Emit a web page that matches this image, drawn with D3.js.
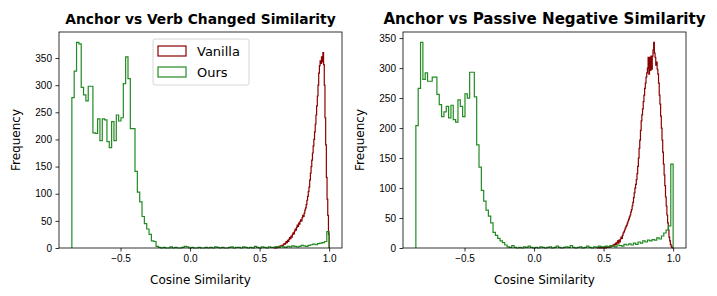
<!DOCTYPE html>
<meta charset="utf-8">
<style>
body { margin: 0; background: #fff; }
svg { font-family: "DejaVu Sans", sans-serif; }
.title { font-weight: bold; text-anchor: middle; }
.tick text { font-size: 10px; fill: #000; }
.tick line { stroke: #000; stroke-width: 0.8; }
.domain { display: none; }
</style>
<body>
<script src="https://cdnjs.cloudflare.com/ajax/libs/d3/7.8.5/d3.min.js"></script>
<script>

// histogram bin layout (start, width) and counts
var greenStart = -0.85, greenWidth = 1.85 / 110;

var verbOurs = [
  277, 326, 379, 376, 296, 282, 271, 298, 298, 212, 211, 238, 198, 238, 236, 196, 185, 233, 198, 245,
  234, 240, 303, 352, 312, 220, 220, 141, 103, 85, 58, 45, 35, 25, 13, 12, 3,
  1, 0, 1, 0, 0, 2, 0, 1, 0, 0, 1, 3, 2, 0, 1, 0, 0, 1, 0, 0, 1, 0, 1, 0, 2, 1, 0, 1, 0,
  0, 1, 2, 0, 1, 1, 0, 2, 1, 0, 1, 0, 3, 1, 0, 2, 1, 0, 2, 1,
  1, 2, 1, 3, 2, 1, 3, 2, 4, 3, 2, 3, 5, 4, 3, 5, 6, 7, 6, 8, 9, 10, 12, 30
];

var verbVanillaStart = 0.6, vanillaWidth = 0.005;
var verbVanilla = [
  0, 1, 0, 1, 0, 2, 1, 2, 3, 2, 4, 3, 5, 4, 6, 8, 7, 9, 12, 10,
  14, 12, 16, 19, 17, 22, 20, 25, 28, 26, 31, 35, 33, 38, 42, 40, 46, 44, 49, 52,
  50, 56, 60, 58, 64, 70, 74, 80, 88, 95, 104, 112, 125, 138, 150, 162, 175, 188, 200, 214,
  228, 245, 262, 280, 300, 322, 336, 345, 340, 352, 343, 360, 338, 300, 240, 190, 130, 90, 60, 25
];

var passiveOurs = [
  204, 266, 343, 281, 292, 278, 278, 285, 285, 256, 239, 219, 227, 236, 217, 238, 214, 210, 247, 236,
  219, 257, 250, 293, 293, 252, 172, 135, 96, 78, 63, 53, 42, 26, 21, 16, 12, 9, 5, 2, 1, 4, 1, 0,
  1, 0, 2, 1, 3, 1, 0, 1, 0, 2, 1, 0, 1, 2, 0, 1, 3, 1, 0, 1, 2, 1, 4, 1, 0, 1, 2, 0, 1, 3, 1, 0, 2, 1, 3, 2,
  2, 3, 2, 4, 3, 2, 5, 4, 3, 6, 5, 7, 5, 8, 6, 10, 8, 12, 10, 13, 12, 14, 13, 17, 15, 20, 25, 30, 37, 140
];

var passiveVanillaStart = 0.45;
var passiveVanilla = [
  0, 0, 1, 0, 0, 1, 0, 1, 0, 1, 0, 1, 2, 0, 1, 2, 1, 2, 1, 3,
  2, 4, 3, 5, 4, 6, 5, 8, 6, 9, 12, 8, 13, 10, 15, 18, 16, 21, 25, 27,
  30, 33, 36, 38, 42, 45, 48, 52, 55, 60, 64, 70, 76, 84, 92, 100, 106, 114, 124, 136,
  150, 166, 180, 196, 212, 222, 232, 244, 255, 266, 275, 285, 292, 300, 318, 290, 318, 296, 320, 298,
  320, 330, 343, 325, 318, 305, 310, 298, 290, 275, 255, 240, 220, 200, 180, 160, 140, 122, 104, 85,
  70, 55, 42, 30, 18, 12, 6, 3, 1, 0
];

var xTicks = [-0.5, 0.0, 0.5, 1.0];
var yTicks = [0, 50, 100, 150, 200, 250, 300, 350];
var legendLabels = ["Vanilla", "Ours"];
var red = "#8b0000", green = "#228b22";

var svg = d3.select("body").append("svg")
    .attr("width", 717)
    .attr("height", 296);

var panels = [
  {title: "Anchor vs Verb Changed Similarity", titleSize: 13.8, left: 59, right: 342,
   vanilla: verbVanilla, vStart: verbVanillaStart, ours: verbOurs, legend: true, ylabelX: 16},
  {title: "Anchor vs Passive Negative Similarity", titleSize: 15.1, left: 403, right: 686,
   vanilla: passiveVanilla, vStart: passiveVanillaStart, ours: passiveOurs, legend: false, ylabelX: 360}
];

var plotTop = 32, plotBottom = 248;

panels.forEach(function(p) {
  var xmin = greenStart, xmax = greenStart + greenWidth * p.ours.length;
  var pad = (xmax - xmin) * 0.05;
  var x = d3.scaleLinear().domain([xmin - pad, xmax + pad]).range([p.left, p.right]);
  var ymax = d3.max(p.ours.concat(p.vanilla)) * 1.05;
  var y = d3.scaleLinear().domain([0, ymax]).range([plotBottom, plotTop]);

  var g = svg.append("g");

  function stepPath(vals, start, width) {
    var pts = [[start, 0]];
    vals.forEach(function(v, i) {
      pts.push([start + i * width, v]);
      pts.push([start + (i + 1) * width, v]);
    });
    pts.push([start + vals.length * width, 0]);
    return d3.line().x(function(d) { return x(d[0]); }).y(function(d) { return y(d[1]); })(pts);
  }

  g.append("path")
      .attr("d", stepPath(p.vanilla, p.vStart, vanillaWidth))
      .attr("fill", "none")
      .attr("stroke", red)
      .attr("stroke-width", 1.2);

  g.append("path")
      .attr("d", stepPath(p.ours, greenStart, greenWidth))
      .attr("fill", "none")
      .attr("stroke", green)
      .attr("stroke-width", 1.2);

  g.append("rect")
      .attr("x", p.left).attr("y", plotTop)
      .attr("width", p.right - p.left).attr("height", plotBottom - plotTop)
      .attr("fill", "none").attr("stroke", "#000").attr("stroke-width", 0.8);

  g.append("g")
      .attr("transform", "translate(0," + plotBottom + ")")
      .call(d3.axisBottom(x).tickValues(xTicks).tickSize(3.5).tickPadding(3.5)
        .tickFormat(function(d) { return d3.format(".1f")(d).replace("-", "\u2212"); }));

  g.append("g")
      .attr("transform", "translate(" + p.left + ",0)")
      .call(d3.axisLeft(y).tickValues(yTicks).tickSize(3.5).tickPadding(3.5));

  g.append("text")
      .attr("class", "title")
      .attr("x", (p.left + p.right) / 2)
      .attr("y", 24)
      .style("font-size", p.titleSize + "px")
      .text(p.title);

  g.append("text")
      .attr("x", (p.left + p.right) / 2)
      .attr("y", 284)
      .attr("text-anchor", "middle")
      .style("font-size", "12px")
      .text("Cosine Similarity");

  g.append("text")
      .attr("transform", "translate(" + p.ylabelX + "," + ((plotTop + plotBottom) / 2) + ") rotate(-90)")
      .attr("text-anchor", "middle")
      .attr("dy", "0.35em")
      .style("font-size", "12px")
      .text("Frequency");

  if (p.legend) {
    var lg = g.append("g").attr("transform", "translate(153,39)");
    lg.append("rect")
        .attr("width", 96).attr("height", 46).attr("rx", 2)
        .attr("fill", "#fff").attr("fill-opacity", 0.8)
        .attr("stroke", "#ccc").attr("stroke-width", 0.8);
    [red, green].forEach(function(c, i) {
      lg.append("rect")
          .attr("x", 5).attr("y", 7 + i * 21)
          .attr("width", 28).attr("height", 10)
          .attr("fill", "none").attr("stroke", c).attr("stroke-width", 1.2);
      lg.append("text")
          .attr("x", 44).attr("y", 12 + i * 21)
          .attr("dy", "0.35em")
          .style("font-size", "13px")
          .text(legendLabels[i]);
    });
  }
});

</script>
</body>
